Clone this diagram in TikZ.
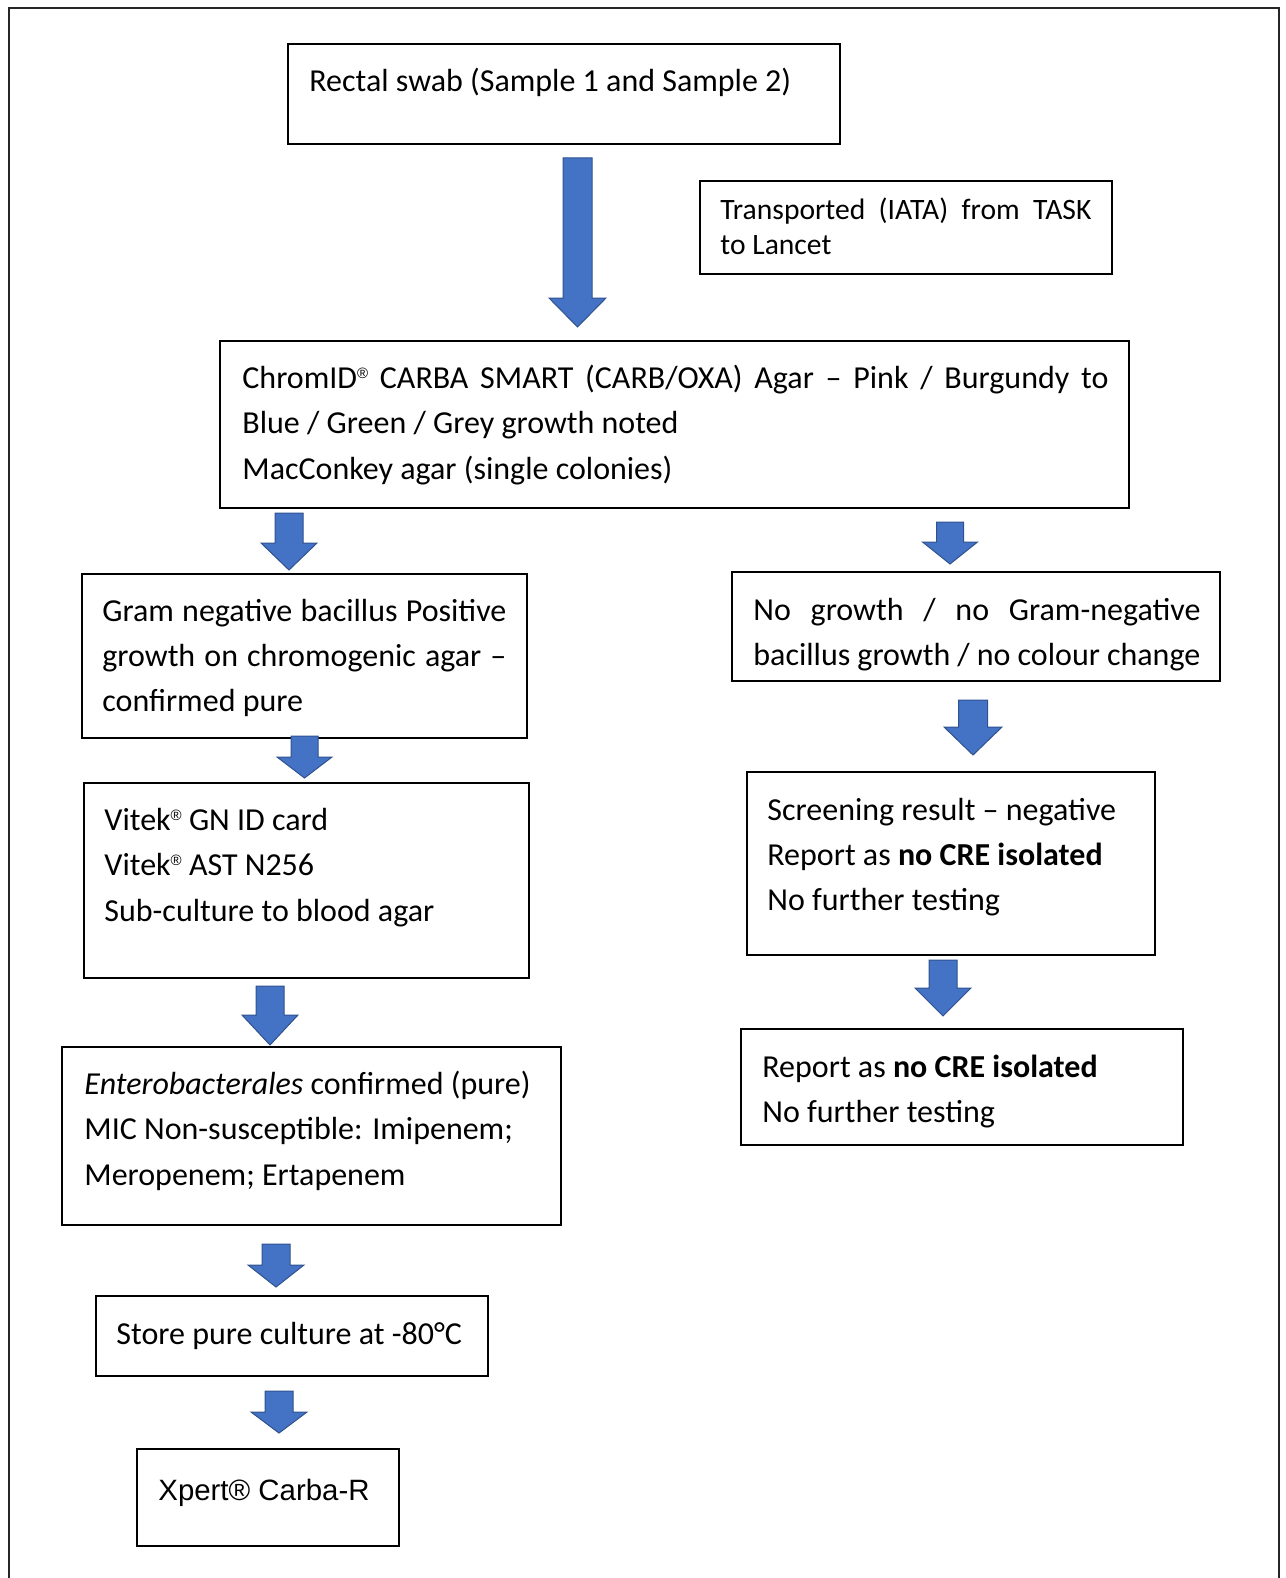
\documentclass[tikz,border=0pt]{standalone}
\usepackage{fontspec}
\setmainfont{Carlito}
\newfontfamily\arialf{Liberation Sans}
\usetikzlibrary{fit}
\definecolor{arrfill}{HTML}{4472C4}
\definecolor{arrline}{HTML}{2F528F}
\newcommand\fs{\fontsize{16}{22}\selectfont}
\newcommand\fsmall{\fontsize{14.8}{18}\selectfont}
\newcommand\reg{\raisebox{4.6pt}{\arialf\fontsize{7.5}{7.5}\selectfont ®}}
% block arrow: cx, top, head start, tip, half shaft, half head
\newcommand\blockarrow[6]{%
  \filldraw[arrowshape] ({#1-#5},#2) -- ({#1+#5},#2) -- ({#1+#5},#3) -- ({#1+#6},#3)
    -- (#1,#4) -- ({#1-#6},#3) -- ({#1-#5},#3) -- cycle;}
\begin{document}
\begin{tikzpicture}[x=0.5pt,y=-0.5pt,
  box/.style={draw=black, line width=0.8pt, inner sep=0pt},
  lbl/.style={anchor=base west, inner sep=0pt, font=\fs},
  arrowshape/.style={fill=arrfill, draw=arrline, line width=0.5pt, line join=miter}]
\useasboundingbox (0,0) rectangle (1285,1578);
\draw[line width=1.2pt, black!85] (9,1578) -- (9,8) -- (1279,8) -- (1279,1578);

% boxes
\node[box, fit={(288,44) (840,144)}] (rect) {};
\node[box, fit={(700,181) (1112,274)}] (trans) {};
\node[box, fit={(220,341) (1129,508)}] (chrom) {};
\node[box, fit={(82,574) (527,738)}] (gram) {};
\node[box, fit={(732,572) (1220,681)}] (nog) {};
\node[box, fit={(84,783) (529,978)}] (vitek) {};
\node[box, fit={(747,772) (1155,955)}] (screen) {};
\node[box, fit={(62,1047) (561,1225)}] (entero) {};
\node[box, fit={(741,1029) (1183,1145)}] (report) {};
\node[box, fit={(96,1296) (488,1376)}] (store) {};
\node[box, fit={(137,1449) (399,1546)}] (xpert) {};

% texts
\node[lbl] (t-rect) at (309,92) {Rectal swab (Sample 1 and Sample 2)};
\node[lbl, font=\fsmall] (t-trans1) at (720,220) {\makebox[185.5pt][s]{Transported (IATA) from TASK}};
\node[lbl, font=\fsmall] (t-trans2) at (720,255) {to Lancet};
\node[lbl] (t-chrom1) at (242,388) {\makebox[433pt][s]{ChromID\reg{} CARBA SMART (CARB/OXA) Agar – Pink / Burgundy to}};
\node[lbl] (t-chrom2) at (242,433) {Blue / Green / Grey growth noted};
\node[lbl] (t-chrom3) at (242,479) {MacConkey agar (single colonies)};
\node[lbl] (t-gram1) at (102,621) {\makebox[202pt][s]{Gram negative bacillus Positive}};
\node[lbl] (t-gram2) at (102,666) {\makebox[202pt][s]{growth on chromogenic agar –}};
\node[lbl] (t-gram3) at (102,711) {confirmed pure};
\node[lbl] (t-nog1) at (753,620) {\makebox[223.5pt][s]{No growth / no Gram-negative}};
\node[lbl] (t-nog2) at (753,665) {\makebox[223.5pt][s]{bacillus growth / no colour change}};
\node[lbl] (t-vit1) at (104,830) {Vitek\reg{} GN ID card};
\node[lbl] (t-vit2) at (104,875) {Vitek\reg{} AST N256};
\node[lbl] (t-vit3) at (104,921) {Sub-culture to blood agar};
\node[lbl] (t-scr1) at (767,820) {Screening result – negative};
\node[lbl] (t-scr2) at (767,865) {Report as \textbf{no CRE isolated}};
\node[lbl] (t-scr3) at (767,910) {No further testing};
\node[lbl] (t-ent1) at (84,1094) {\textit{Enterobacterales} confirmed (pure)};
\node[lbl] (t-ent2) at (84,1139) {MIC Non-susceptible: Imipenem;};
\node[lbl] (t-ent3) at (84,1185) {Meropenem; Ertapenem};
\node[lbl] (t-rep1) at (762,1077) {Report as \textbf{no CRE isolated}};
\node[lbl] (t-rep2) at (762,1122) {No further testing};
\node[lbl] (t-store) at (116,1344) {Store pure culture at -80°C};
\node[lbl, font=\arialf\fontsize{14.7}{18}\selectfont] (t-xpert) at (158,1500) {Xpert® Carba-R};

% block arrows
\blockarrow{577.5}{158}{298}{327}{14.5}{28.5}
\blockarrow{289}{513}{543}{570}{14}{28}
\blockarrow{950}{522}{542}{564}{13.5}{27.5}
\blockarrow{304.5}{736}{757}{778}{13.5}{27.5}
\blockarrow{973}{700}{727}{755}{14.5}{29}
\blockarrow{270}{986}{1015}{1045}{14}{28}
\blockarrow{943}{960}{988}{1016}{14}{28}
\blockarrow{276}{1244}{1265}{1287}{14}{28}
\blockarrow{279}{1391}{1412}{1433}{14}{28}
\end{tikzpicture}
\end{document}
